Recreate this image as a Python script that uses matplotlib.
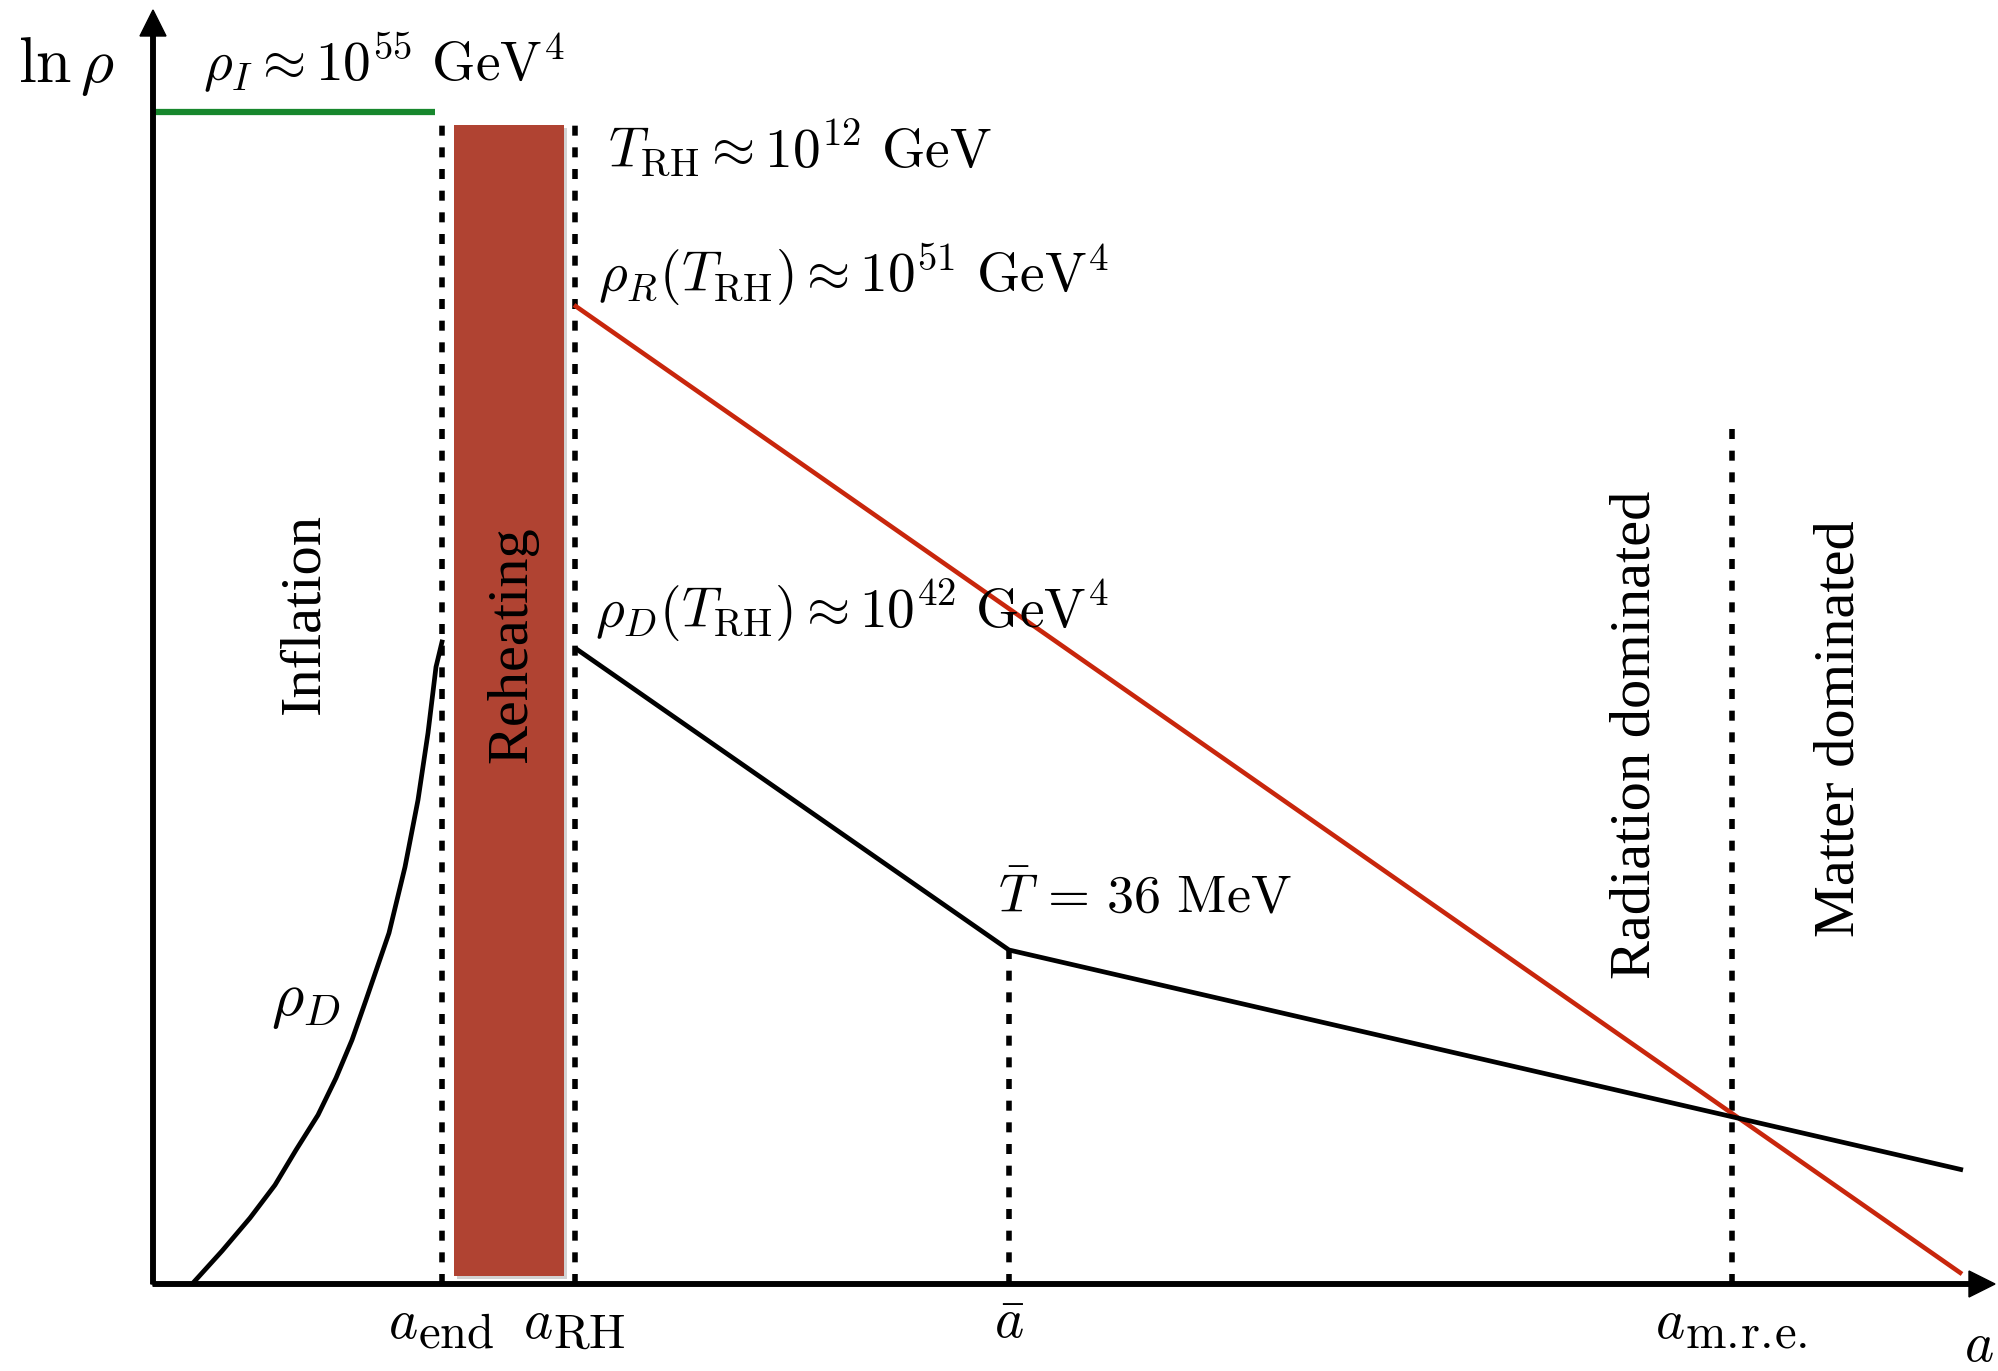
import matplotlib
matplotlib.use("Agg")
import matplotlib.pyplot as plt
import matplotlib.patheffects as pe
from matplotlib.patches import Rectangle

plt.rcParams['mathtext.fontset'] = 'cm'
plt.rcParams['font.family'] = ['Liberation Serif', 'DejaVu Serif']

# ---- schematic data (arbitrary units: a along x, ln rho along y) ----
a_ticks = [289, 422, 856, 1579]
a_tick_subscripts = [r'$\mathrm{end}$', r'$\mathrm{RH}$', None, r'$\mathrm{m.\!r.\!e.}$']
a_axis_max = 1842
lnrho_axis_max = 1274

inflation_a = [0, 282]
inflation_lnrho = [1172, 1172]

radiation_a = [421, 1809]
radiation_lnrho = [979, 10]

dark_a = [422, 856, 1810]
dark_lnrho = [636, 334, 114]

rhoD_infl_a = [40, 69, 97, 122, 143, 165, 183, 199, 213, 236, 252, 265, 275, 283, 289]
rhoD_infl_lnrho = [1, 33, 66, 99, 134, 169, 206, 244, 284, 351, 417, 484, 551, 617, 642]

reheat_band = [301, 411]      # a-range of reheating band
reheat_height = [8, 1159]     # ln rho range of band
dash_tops = [1162, 1162, 334, 864]

RED = '#c8260c'
GREEN = '#17872d'
BAND = '#b04332'

fig = plt.figure(figsize=(19.98, 13.71), dpi=100)
ax = fig.add_axes([0, 0, 1, 1])
ax.set_xlim(-153, 1845)
ax.set_ylim(-87, 1284)
ax.axis('off')

# reheating band
rect = Rectangle((reheat_band[0], reheat_height[0]), reheat_band[1] - reheat_band[0],
                 reheat_height[1] - reheat_height[0], facecolor=BAND, edgecolor='none', zorder=1)
rect.set_path_effects([pe.SimplePatchShadow(offset=(2, -2), shadow_rgbFace='0.5', alpha=0.35), pe.Normal()])
ax.add_patch(rect)

# dashed verticals
for xv, top in zip(a_ticks, dash_tops):
    ax.plot([xv, xv], [0, top], color='black', lw=4, linestyle=(0, (1.8, 2.1)), zorder=2)

# curves
ax.plot(inflation_a, inflation_lnrho, color=GREEN, lw=4.5, solid_capstyle='butt', zorder=3)
ax.plot(radiation_a, radiation_lnrho, color=RED, lw=3.3, solid_capstyle='butt', zorder=3)
ax.plot(dark_a, dark_lnrho, color='black', lw=3.4, solid_capstyle='butt', zorder=4)
ax.plot(rhoD_infl_a, rhoD_infl_lnrho, color='black', lw=3.4, zorder=4,
        solid_joinstyle='round')

# axes with arrows
ax.arrow(0, 0, a_axis_max, 0, width=4.5, head_width=26, head_length=26,
         length_includes_head=True, color='black', zorder=5)
ax.arrow(0, 0, 0, lnrho_axis_max, width=4.5, head_width=26, head_length=26,
         length_includes_head=True, color='black', zorder=5)

FS = 40
# tick labels: 'a' plus a large subscript
a_left_offsets = [-54, -52, None, -77]
for xv, sub, off in zip(a_ticks, a_tick_subscripts, a_left_offsets):
    if sub is None:
        ax.text(xv, -54, r'$\bar{a}$', fontsize=FS, ha='center', va='baseline')
    else:
        ax.text(xv + off, -54, r'$a$', fontsize=FS, ha='left', va='baseline')
        ax.text(xv + off + 30, -64, sub, fontsize=35, ha='left', va='baseline')
ax.text(1826, -77, r'$a$', fontsize=FS, ha='center', va='baseline')
ax.text(-38, 1202, r'$\ln\rho$', fontsize=46, ha='right', va='baseline')

# annotations
ax.text(50, 1204, r'$\rho_I \approx 10^{55}\ \mathrm{GeV}^4$', fontsize=FS, ha='left', va='baseline')
ax.text(455, 1117, r'$T_{\mathrm{RH}} \approx 10^{12}\ \mathrm{GeV}$', fontsize=FS, ha='left', va='baseline')
ax.text(445, 992, r'$\rho_R(T_{\mathrm{RH}}) \approx 10^{51}\ \mathrm{GeV}^4$', fontsize=FS, ha='left', va='baseline')
ax.text(442, 656, r'$\rho_D(T_{\mathrm{RH}}) \approx 10^{42}\ \mathrm{GeV}^4$', fontsize=FS, ha='left', va='baseline')
ax.text(845, 371, r'$\bar{T}\,=\,36\ \mathrm{MeV}$', fontsize=39, ha='left', va='baseline')
ax.text(118, 269, r'$\rho_D$', fontsize=45, ha='left', va='baseline')

# rotated region labels
SFS = 42
for x, y, s in [(165, 570, 'Inflation'), (373, 521, 'Reheating'),
                (1497, 305, 'Radiation dominated'), (1700, 347, 'Matter dominated')]:
    ax.text(x, y, s, fontsize=SFS, rotation=90, rotation_mode='anchor',
            ha='left', va='baseline', zorder=6)

fig.savefig('out.png', dpi=100)
